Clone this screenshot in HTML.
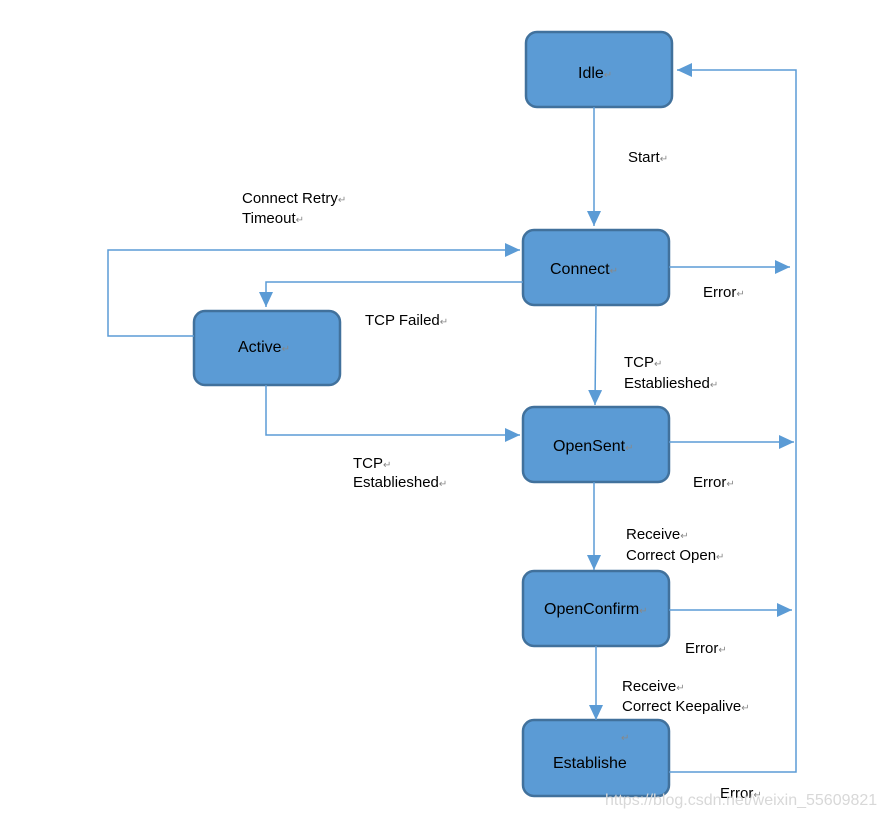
<!DOCTYPE html>
<html><head><style>
body{margin:0;background:#fff;width:884px;height:817px;overflow:hidden;font-family:"Liberation Sans",sans-serif}
svg text{font-family:"Liberation Sans",sans-serif;font-size:15px;fill:#000}
.n{font-size:16px}
.r{fill:#888;font-size:10px}
</style></head><body>
<svg width="884" height="817" xmlns="http://www.w3.org/2000/svg">
<defs><marker id="b" markerWidth="16" markerHeight="14" refX="15" refY="7" orient="auto" markerUnits="userSpaceOnUse"><path d="M0,0 L15,7 L0,14 z" fill="#5b9bd5"/></marker></defs>
<g fill="#5b9bd5" stroke="#41719c" stroke-width="2.5">
<rect x="526" y="32" width="146" height="75" rx="11"/>
<rect x="523" y="230" width="146" height="75" rx="11"/>
<rect x="194" y="311" width="146" height="74" rx="11"/>
<rect x="523" y="407" width="146" height="75" rx="11"/>
<rect x="523" y="571" width="146" height="75" rx="11"/>
<rect x="523" y="720" width="146" height="76" rx="11"/>
</g>
<g stroke="#5b9bd5" stroke-width="1.5" fill="none">
<path d="M594 107 V226" marker-end="url(#b)"/>
<path d="M194 336 H108 V250 H520" marker-end="url(#b)"/>
<path d="M523 282 H266 V307" marker-end="url(#b)"/>
<path d="M266 385 V435 H520" marker-end="url(#b)"/>
<path d="M596 305 L595 405" marker-end="url(#b)"/>
<path d="M594 482 V570" marker-end="url(#b)"/>
<path d="M596 646 V720" marker-end="url(#b)"/>
<path d="M669 267 H790" marker-end="url(#b)"/>
<path d="M669 442 H794" marker-end="url(#b)"/>
<path d="M669 610 H792" marker-end="url(#b)"/>
<path d="M669 772 H796 V70 H677" marker-end="url(#b)"/>
</g>
<text class="n" x="578" y="78">Idle<tspan class="r">↵</tspan></text>
<text class="n" x="550" y="274">Connect<tspan class="r">↵</tspan></text>
<text class="n" x="238" y="352">Active<tspan class="r">↵</tspan></text>
<text class="n" x="553" y="451">OpenSent<tspan class="r">↵</tspan></text>
<text class="n" x="544" y="614">OpenConfirm<tspan class="r">↵</tspan></text>
<text class="n" x="553" y="768">Establishe</text>
<text x="621" y="741" class="r">↵</text>
<text x="628" y="162">Start<tspan class="r">↵</tspan></text>
<text x="242" y="203">Connect Retry<tspan class="r">↵</tspan></text>
<text x="242" y="223">Timeout<tspan class="r">↵</tspan></text>
<text x="703" y="297">Error<tspan class="r">↵</tspan></text>
<text x="365" y="325">TCP Failed<tspan class="r">↵</tspan></text>
<text x="624" y="367">TCP<tspan class="r">↵</tspan></text>
<text x="624" y="388">Establieshed<tspan class="r">↵</tspan></text>
<text x="353" y="468">TCP<tspan class="r">↵</tspan></text>
<text x="353" y="487">Establieshed<tspan class="r">↵</tspan></text>
<text x="693" y="487">Error<tspan class="r">↵</tspan></text>
<text x="626" y="539">Receive<tspan class="r">↵</tspan></text>
<text x="626" y="560">Correct Open<tspan class="r">↵</tspan></text>
<text x="685" y="653">Error<tspan class="r">↵</tspan></text>
<text x="622" y="691">Receive<tspan class="r">↵</tspan></text>
<text x="622" y="711">Correct Keepalive<tspan class="r">↵</tspan></text>
<text x="720" y="798">Error<tspan class="r">↵</tspan></text>
<text x="605" y="805" style="fill:#d8d8d8;font-size:16px">https://blog.csdn.net/weixin_55609821</text>
</svg>
</body></html>
